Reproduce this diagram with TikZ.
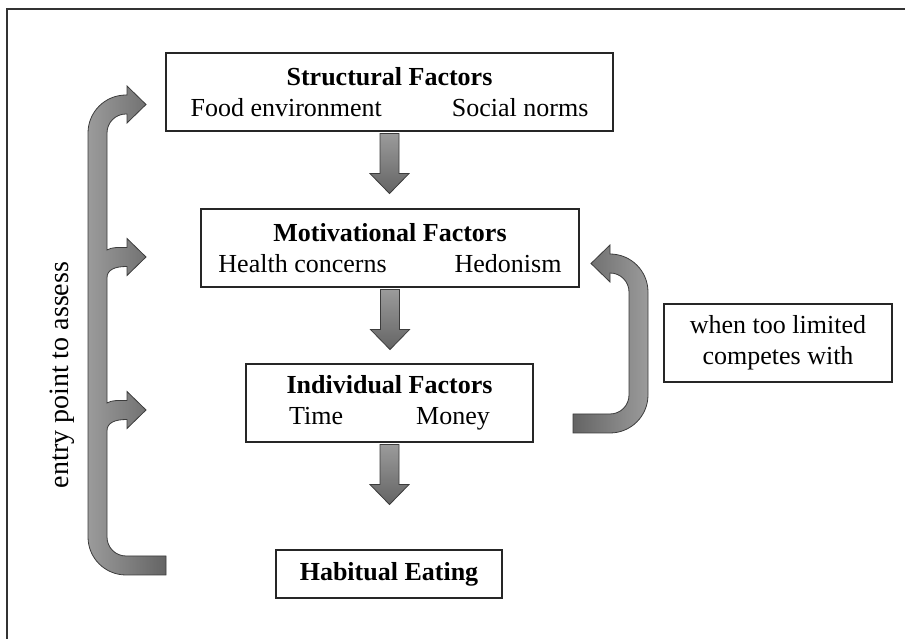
\documentclass[tikz,border=0pt]{standalone}
\usepackage{fontspec}
\setmainfont{Liberation Serif}
\usetikzlibrary{calc}

\definecolor{arrowlight}{RGB}{155,155,155}
\definecolor{arrowdark}{RGB}{100,100,100}
\definecolor{rimgray}{RGB}{60,60,60}

\newcommand{\blkdown}[1]{%
  \draw[blockarrow,top color=arrowlight,bottom color=arrowdark]
    ($(#1.south)+(-9.5,-2)$) -- ++(19,0) -- ++(0,-40) -- ++(10,0)
    -- ++(-19.5,-20) -- ++(-19.5,20) -- ++(10,0) -- cycle;}

\begin{document}
\begin{tikzpicture}[x=1pt,y=1pt,
    font=\fontsize{26}{31}\selectfont,
    factor/.style={draw=black!85,line width=1.1pt,inner sep=0pt,align=center,minimum height=78pt},
    blockarrow/.style={draw=rimgray,line width=0.8pt}]
  \useasboundingbox (0,0) rectangle (905,639);
  \draw[line width=1.3pt,black!80] (7,0) -- (7,630) -- (905,630);

  \node[factor,minimum width=447pt] (str) at (389.5,547)
    {\textbf{Structural Factors}\\Food environment\hspace{70pt}Social norms};
  \node[factor,minimum width=378pt] (mot) at (390,391)
    {\textbf{Motivational Factors}\\Health concerns\hspace{68pt}Hedonism};
  \node[factor,minimum width=287pt] (ind) at (389.5,236)
    {\textbf{Individual Factors}\\Time\hspace{73pt}Money};
  \node[factor,minimum width=226pt,minimum height=48pt] (hab) at (389,65)
    {\textbf{Habitual Eating}};
  \node[factor,minimum width=228pt] (lim) at (778,296)
    {when too limited\\competes with};
  \node[rotate=90,font=\fontsize{28}{33}\selectfont] (entry) at (62,264) {entry point to assess};

  \blkdown{str}
  \blkdown{mot}
  \blkdown{ind}

  \draw[blockarrow,left color=arrowlight,right color=arrowdark]
    (166,64) -- (126,64) arc (270:180:38) -- (88,506) arc (180:90:38)
    -- (127,544) -- (127,553) -- (146,534.5) -- (127,516) -- (127,525)
    -- (126,525) arc (90:180:19) -- (107,389)
    .. controls (112,392) and (118,391.5) .. (127,391.5)
    -- (127,400.5) -- (146,382) -- (127,363.5) -- (127,372.5)
    .. controls (114,372.5) and (107,369) .. (107,361) -- (107,236)
    .. controls (112,239) and (118,238.5) .. (127,238.5)
    -- (127,247.5) -- (146,229) -- (127,210.5) -- (127,219.5)
    .. controls (114,219.5) and (107,216) .. (107,208)
    -- (107,102) arc (180:270:19) -- (166,83) -- cycle;

  \draw[blockarrow,left color=arrowdark,right color=arrowlight]
    (573,206) -- (610,206) arc (270:360:38) -- (648,347) arc (0:90:38)
    -- (610,394) -- (591,375.5) -- (610,357) -- (610,366)
    arc (90:0:19) -- (629,244) arc (0:-90:19) -- (573,225) -- cycle;
\end{tikzpicture}
\end{document}
